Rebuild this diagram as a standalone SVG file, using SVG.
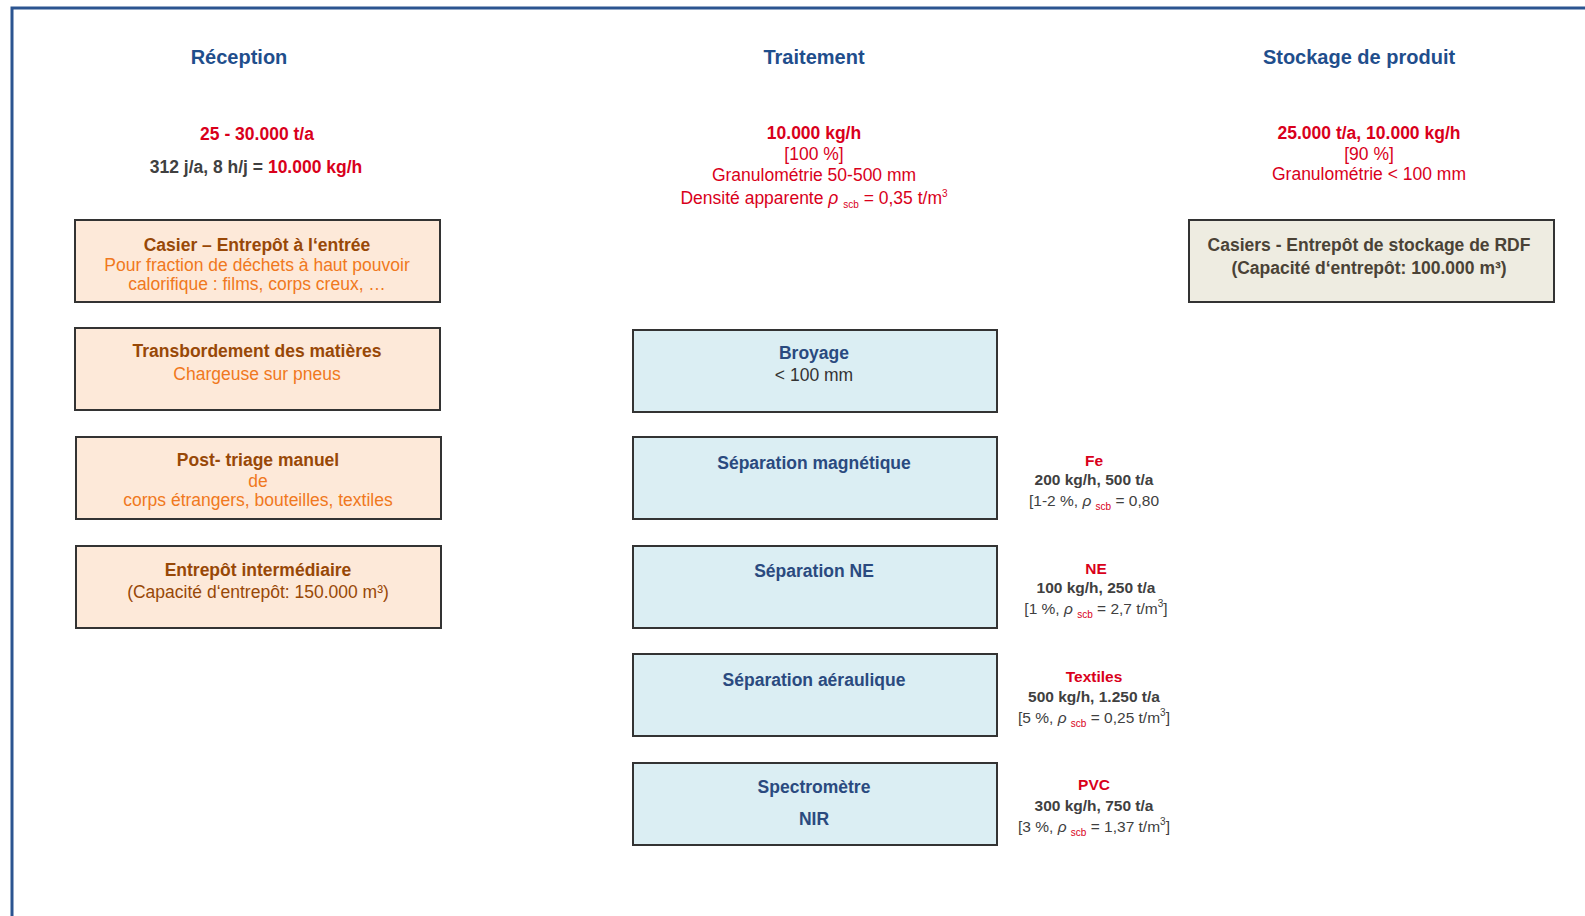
<svg xmlns="http://www.w3.org/2000/svg" width="1585" height="916" viewBox="0 0 1585 916">
<style>
text{font-family:"Liberation Sans",Arial,sans-serif;text-anchor:middle}
.hdr{font-size:20px;font-weight:bold;fill:#1f4e8c}
.red{fill:#d9001b}
.rb{fill:#d9001b;font-weight:bold}
.mid{font-size:17.5px}
.dk{fill:#404040;font-weight:bold}
.lbox{fill:#fde9d9;stroke:#333;stroke-width:2}
.bbox{fill:#dbeef3;stroke:#333;stroke-width:2}
.gbox{fill:#eeece1;stroke:#333;stroke-width:2}
.lt{font-size:17.5px;font-weight:bold;fill:#984807}
.ls{font-size:17.5px;fill:#f07820}
.bt{font-size:17.5px;font-weight:bold;fill:#2a4a7f}
.bs{font-size:17.5px;fill:#333}
.gt{font-size:17.5px;font-weight:bold;fill:#4a4236}
.an{font-size:15.5px}
.ag{fill:#404040}
.sub{font-size:10px}
.sup{font-size:10px}
</style>
<rect width="1585" height="916" fill="#ffffff"/>
<g id="frame"><path d="M12 916 V8 H1585" fill="none" stroke="#2b5490" stroke-width="3"/></g>

<g id="headers">
<text class="hdr" x="239" y="64">Réception</text>
<text class="hdr" x="814" y="64">Traitement</text>
<text class="hdr" x="1359" y="64">Stockage de produit</text>
</g>

<g id="reception-info" class="mid">
<text class="rb" x="257" y="140">25 - 30.000 t/a</text>
<text x="256" y="173" font-weight="bold"><tspan fill="#404040">312 j/a, 8 h/j = </tspan><tspan fill="#d9001b">10.000 kg/h</tspan></text>
</g>

<g id="traitement-info" class="mid">
<text class="rb" x="814" y="139">10.000 kg/h</text>
<text class="red" x="814" y="160">[100 %]</text>
<text class="red" x="814" y="181">Granulométrie 50-500 mm</text>
<text class="red" x="814" y="204">Densité apparente <tspan font-style="italic">ρ</tspan> <tspan class="sub" dy="4">scb</tspan><tspan dy="-4"> = 0,35 t/m</tspan><tspan class="sup" dy="-7">3</tspan></text>
</g>

<g id="stockage-info" class="mid">
<text class="rb" x="1369" y="139">25.000 t/a, 10.000 kg/h</text>
<text class="red" x="1369" y="160">[90 %]</text>
<text class="red" x="1369" y="180">Granulométrie &lt; 100 mm</text>
</g>

<g id="casier-entree">
<rect class="lbox" x="75" y="220" width="365" height="82"/>
<text class="lt" x="257" y="251">Casier – Entrepôt à l‘entrée</text>
<text class="ls" x="257" y="271">Pour fraction de déchets à haut pouvoir</text>
<text class="ls" x="257" y="290">calorifique : films, corps creux, …</text>
</g>

<g id="transbordement">
<rect class="lbox" x="75" y="328" width="365" height="82"/>
<text class="lt" x="257" y="357">Transbordement des matières</text>
<text class="ls" x="257" y="380">Chargeuse sur pneus</text>
</g>

<g id="post-triage">
<rect class="lbox" x="76" y="437" width="365" height="82"/>
<text class="lt" x="258" y="466">Post- triage manuel</text>
<text class="ls" x="258" y="487">de</text>
<text class="ls" x="258" y="506">corps étrangers, bouteilles, textiles</text>
</g>

<g id="entrepot-intermediaire">
<rect class="lbox" x="76" y="546" width="365" height="82"/>
<text class="lt" x="258" y="576">Entrepôt intermédiaire</text>
<text class="ls" x="258" y="598" fill="#984807" style="fill:#984807">(Capacité d‘entrepôt: 150.000 m³)</text>
</g>

<g id="broyage">
<rect class="bbox" x="633" y="330" width="364" height="82"/>
<text class="bt" x="814" y="359">Broyage</text>
<text class="bs" x="814" y="381">&lt; 100 mm</text>
</g>

<g id="sep-magnetique">
<rect class="bbox" x="633" y="437" width="364" height="82"/>
<text class="bt" x="814" y="469">Séparation magnétique</text>
</g>

<g id="sep-ne">
<rect class="bbox" x="633" y="546" width="364" height="82"/>
<text class="bt" x="814" y="577">Séparation NE</text>
</g>

<g id="sep-aeraulique">
<rect class="bbox" x="633" y="654" width="364" height="82"/>
<text class="bt" x="814" y="686">Séparation aéraulique</text>
</g>

<g id="spectrometre">
<rect class="bbox" x="633" y="763" width="364" height="82"/>
<text class="bt" x="814" y="793">Spectromètre</text>
<text class="bt" x="814" y="825">NIR</text>
</g>

<g id="casiers-rdf">
<rect class="gbox" x="1189" y="220" width="365" height="82"/>
<text class="gt" x="1369" y="251">Casiers - Entrepôt de stockage de RDF</text>
<text class="gt" x="1369" y="274">(Capacité d‘entrepôt: 100.000 m³)</text>
</g>

<g id="annot-fe" class="an">
<text class="rb" x="1094" y="466">Fe</text>
<text class="dk" x="1094" y="485">200 kg/h, 500 t/a</text>
<text class="ag" x="1094" y="506">[1-2 %, <tspan font-style="italic">ρ</tspan> <tspan class="sub red" dy="4">scb</tspan><tspan dy="-4"> = 0,80</tspan></text>
</g>

<g id="annot-ne" class="an">
<text class="rb" x="1096" y="574">NE</text>
<text class="dk" x="1096" y="593">100 kg/h, 250 t/a</text>
<text class="ag" x="1096" y="614">[1 %,  <tspan font-style="italic">ρ</tspan> <tspan class="sub red" dy="4">scb</tspan><tspan dy="-4"> = 2,7 t/m</tspan><tspan class="sup" dy="-7">3</tspan><tspan dy="7">]</tspan></text>
</g>

<g id="annot-textiles" class="an">
<text class="rb" x="1094" y="682">Textiles</text>
<text class="dk" x="1094" y="702">500 kg/h, 1.250 t/a</text>
<text class="ag" x="1094" y="723">[5 %, <tspan font-style="italic">ρ</tspan> <tspan class="sub red" dy="4">scb</tspan><tspan dy="-4"> = 0,25 t/m</tspan><tspan class="sup" dy="-7">3</tspan><tspan dy="7">]</tspan></text>
</g>

<g id="annot-pvc" class="an">
<text class="rb" x="1094" y="790">PVC</text>
<text class="dk" x="1094" y="811">300 kg/h, 750 t/a</text>
<text class="ag" x="1094" y="832">[3 %, <tspan font-style="italic">ρ</tspan> <tspan class="sub red" dy="4">scb</tspan><tspan dy="-4"> = 1,37 t/m</tspan><tspan class="sup" dy="-7">3</tspan><tspan dy="7">]</tspan></text>
</g>
</svg>
